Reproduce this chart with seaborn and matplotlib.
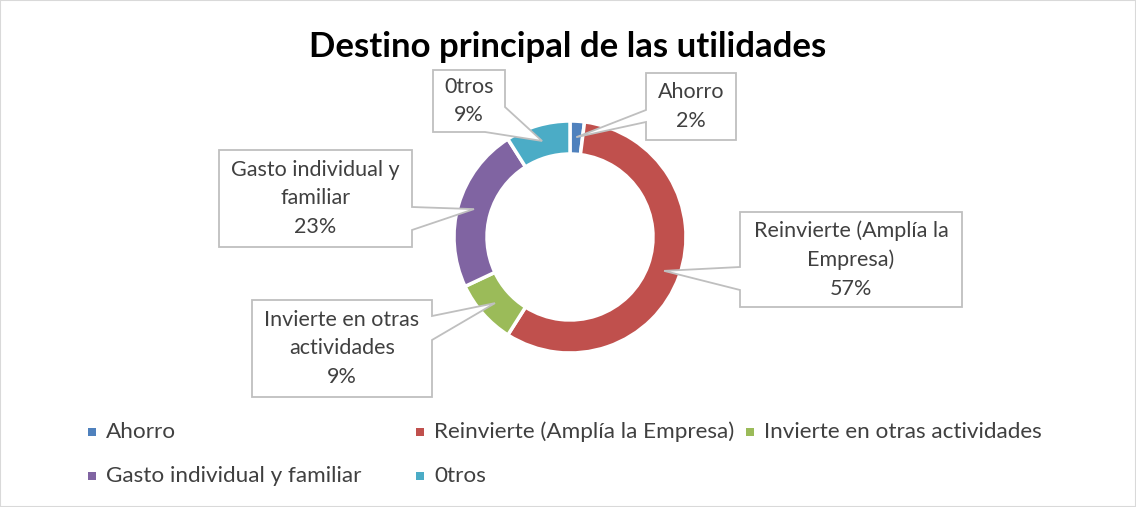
import matplotlib
matplotlib.use("Agg")
import matplotlib.pyplot as plt
import numpy as np
import seaborn as sns
from matplotlib.patches import Polygon, Rectangle

categories = ["Ahorro", "Reinvierte (Amplía la Empresa)", "Invierte en otras actividades",
              "Gasto individual y familiar", "0tros"]
values = [2, 57, 9, 23, 9]
box_labels = ["Ahorro", "Reinvierte (Amplía la\nEmpresa)", "Invierte en otras\nactividades",
              "Gasto individual y\nfamiliar", "0tros"]
colors = ["#4F81BD", "#C0504D", "#9BBB59", "#8064A2", "#4BACC6"]

sns.set_theme(style="white")
plt.rcParams["font.family"] = ["Lato", "DejaVu Sans"]

W, H = 1136, 507
fig = plt.figure(figsize=(W / 100, H / 100), dpi=100)
ax = fig.add_axes([0, 0, 1, 1])

cx, cy, R, ring = 570, 237, 116, 33
wedges, _ = ax.pie(values, colors=sns.color_palette(colors), startangle=-90, counterclock=True,
                   radius=R, center=(cx, cy), frame=True,
                   wedgeprops=dict(width=ring, edgecolor="white", linewidth=2.5))
ax.set_xlim(0, W)
ax.set_ylim(H, 0)
ax.set_aspect("equal")
ax.axis("off")

ax.text(568, 47, "Destino principal de las utilidades", ha="center", va="center",
        fontsize=25, fontweight="bold", color="black")

# callout boxes: (x0, y0, x1, y1), pointer base points
boxes = [
    ((646, 73, 736, 140), "left", (110, 122)),
    ((740, 212, 962, 307), "left", (267, 290)),
    ((252, 300, 432, 397), "right", (316, 340)),
    ((219, 150, 412, 247), "right", (207, 230)),
    ((433, 70, 505, 132), "corner", None),
]
cum = np.cumsum([0] + values[:-1])
total = sum(values)
edge = "#BFBFBF"
tc = "#404040"
for i, (b, side, base) in enumerate(boxes):
    frac = (cum[i] + values[i] / 2) / total
    ang = 2 * np.pi * frac
    tx = cx + 100 * np.sin(ang)
    ty = cy - 100 * np.cos(ang)
    x0, y0, x1, y1 = b
    if side == "left":
        pts = [(x0, y0), (x1, y0), (x1, y1), (x0, y1), (x0, base[1]), (tx, ty), (x0, base[0])]
    elif side == "right":
        pts = [(x0, y0), (x1, y0), (x1, base[0]), (tx, ty), (x1, base[1]), (x1, y1), (x0, y1)]
    else:
        pts = [(x0, y0), (x1, y0), (x1, 107), (tx, ty), (485, y1), (x0, y1)]
    ax.add_patch(Polygon(pts, closed=True, facecolor="white", edgecolor=edge, linewidth=1.3, zorder=5))
    ax.text((x0 + x1) / 2, (y0 + y1) / 2, f"{box_labels[i]}\n{values[i]}%", ha="center", va="center",
            fontsize=15.5, color=tc, linespacing=1.55, zorder=6)

# legend
leg_pos = [(92, 432), (420, 432), (750, 432), (92, 476), (420, 476)]
for (lx, ly), c, lab in zip(leg_pos, colors, categories):
    ax.add_patch(Rectangle((lx - 4, ly - 4), 8, 8, facecolor=c, edgecolor="none"))
    ax.text(lx + 14, ly, lab, ha="left", va="center", fontsize=16.2, color=tc)

fig.patches.append(Rectangle((0, 0), 1, 1, transform=fig.transFigure, fill=False,
                             edgecolor="#D9D9D9", linewidth=1.5))
fig.savefig("out.png", dpi=100)
